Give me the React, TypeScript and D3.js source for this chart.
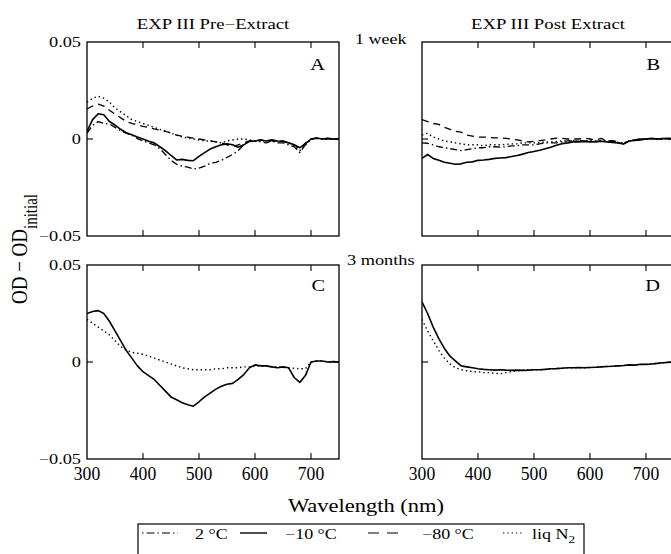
import React from 'react';
import * as d3 from 'd3';

// ---------------- DATA ----------------
const WAVELENGTHS = [
  300, 310, 320, 330, 340, 350, 360, 370, 380, 390,
  400, 410, 420, 430, 440, 450, 460, 470, 480, 490,
  500, 510, 520, 530, 540, 550, 560, 570, 580, 590,
  600, 610, 620, 630, 640, 650, 660, 670, 680, 690,
  700, 710, 720, 730, 740, 750,
];

const X_TICKS = [300, 400, 500, 600, 700];
const Y_TICKS = [-0.05, 0, 0.05];

const COL_TITLES = ['EXP III Pre\u2212Extract', 'EXP III Post Extract'];
const ROW_LABELS = ['1 week', '3 months'];
const PANEL_LETTERS = ['A', 'B', 'C', 'D'];
const LEGEND_LABELS = ['2 \u00B0C', '\u221210 \u00B0C', '\u221280 \u00B0C', 'liq N'];

// Panel A: 1 week, pre-extract
const A_2C = [
  0.003, 0.007, 0.009, 0.008, 0.0078, 0.006, 0.0042, 0.003, 0.002, 0.0002,
  -0.001, -0.002, -0.003, -0.005, -0.008, -0.011, -0.013, -0.014, -0.0145, -0.0155,
  -0.015, -0.014, -0.0125, -0.012, -0.011, -0.0095, -0.008, -0.006, -0.003, -0.0012,
  -0.001, -0.0015, -0.002, -0.001, -0.002, -0.002, -0.003, -0.004, -0.007, -0.003,
  0.0, 0.0004, 0.0, 0.0003, -0.0002, 0.0,
];
const A_M10C = [
  0.004, 0.010, 0.013, 0.0125, 0.009, 0.0072, 0.005, 0.0032, 0.0022, 0.001,
  0.0, -0.0012, -0.002, -0.004, -0.006, -0.0085, -0.0108, -0.0105, -0.011, -0.0112,
  -0.009, -0.007, -0.0052, -0.004, -0.003, -0.0025, -0.003, -0.0042, -0.003, -0.0012,
  -0.001, -0.0005, -0.001, -0.0004, -0.001, -0.0012, -0.002, -0.003, -0.0045, -0.0025,
  0.0, 0.0005, 0.0, 0.0003, 0.0, 0.0,
];
const A_M80C = [
  0.0155, 0.017, 0.018, 0.017, 0.0148, 0.0128, 0.011, 0.009, 0.008, 0.0072,
  0.0065, 0.006, 0.0052, 0.0045, 0.004, 0.003, 0.002, 0.0015, 0.001, 0.0005,
  0.0, -0.0005, -0.001, -0.0015, -0.002, -0.003, -0.0038, -0.003, -0.002, -0.001,
  -0.001, -0.0005, -0.001, -0.001, -0.0015, -0.001, -0.002, -0.003, -0.005, -0.002,
  0.0, 0.0003, 0.0, 0.0002, 0.0, 0.0,
];
const A_LN2 = [
  0.019, 0.021, 0.022, 0.021, 0.019, 0.016, 0.014, 0.012, 0.010, 0.009,
  0.008, 0.007, 0.006, 0.005, 0.004, 0.003, 0.002, 0.001, 0.0005, 0.0,
  -0.0005, -0.001, -0.001, -0.0015, -0.002, -0.001, -0.0005, 0.0, 0.0, -0.0005,
  -0.001, -0.0008, -0.001, -0.0005, -0.001, -0.0012, -0.002, -0.0035, -0.006, -0.003,
  0.0, 0.0003, 0.0, 0.0, 0.0002, 0.0,
];

// Panel B: 1 week, post extract
const B_2C = [
  -0.002, -0.0022, -0.003, -0.004, -0.0045, -0.005, -0.0055, -0.006, -0.0055, -0.005,
  -0.0045, -0.0045, -0.004, -0.004, -0.0042, -0.004, -0.0035, -0.0035, -0.003, -0.003,
  -0.003, -0.0025, -0.002, -0.002, -0.002, -0.0015, -0.001, -0.001, -0.0008, -0.001,
  -0.001, -0.0012, -0.001, -0.0012, -0.0015, -0.002, -0.0025, -0.001, -0.0005, 0.0,
  0.0, 0.0002, 0.0, 0.0003, 0.0, 0.0,
];
const B_M10C = [
  -0.010, -0.008, -0.010, -0.011, -0.012, -0.0125, -0.013, -0.0128, -0.012, -0.0118,
  -0.011, -0.0108, -0.0105, -0.010, -0.0098, -0.0096, -0.009, -0.0085, -0.0078, -0.007,
  -0.0064, -0.0058, -0.005, -0.0042, -0.0032, -0.0024, -0.002, -0.0015, -0.0015, -0.0013,
  -0.0015, -0.0015, -0.0012, -0.0015, -0.0018, -0.002, -0.0025, -0.001, -0.0008, -0.0005,
  0.0, 0.0003, 0.0, 0.0002, 0.0004, 0.0,
];
const B_M80C = [
  0.010, 0.009, 0.008, 0.0075, 0.006, 0.005, 0.004, 0.0035, 0.002, 0.0015,
  0.001, 0.001, 0.0008, 0.0006, 0.0005, 0.0003, 0.0, -0.0005, -0.001, -0.0015,
  -0.0012, -0.0008, -0.0005, 0.0, 0.0005, 0.0003, 0.0, 0.0, 0.0, 0.0005,
  0.0, -0.0005, 0.0003, -0.001, -0.0008, -0.0015, -0.0025, -0.001, -0.0005, 0.0,
  0.0, 0.0002, 0.0, 0.0, 0.0003, 0.0,
];
const B_LN2 = [
  0.002, 0.003, 0.001, 0.0, -0.001, -0.0015, -0.002, -0.0025, -0.003, -0.003,
  -0.003, -0.0035, -0.003, -0.003, -0.003, -0.0028, -0.0025, -0.0025, -0.002, -0.002,
  -0.002, -0.0018, -0.0015, -0.0015, -0.0012, -0.001, -0.001, -0.0008, -0.001, -0.0008,
  -0.001, -0.001, -0.0008, -0.001, -0.0012, -0.0018, -0.0022, -0.001, -0.0005, 0.0,
  0.0, 0.0, 0.0002, 0.0, 0.0, 0.0,
];

// Panel C: 3 months, pre-extract
const C_M10C = [
  0.025, 0.026, 0.0265, 0.025, 0.021, 0.016, 0.011, 0.006, 0.002, -0.002,
  -0.005, -0.007, -0.009, -0.012, -0.015, -0.018, -0.0195, -0.021, -0.022, -0.0228,
  -0.0205, -0.018, -0.016, -0.014, -0.0125, -0.0115, -0.011, -0.009, -0.0065, -0.003,
  -0.0015, -0.002, -0.002, -0.0025, -0.003, -0.0025, -0.003, -0.008, -0.0105, -0.007,
  0.0, 0.0005, 0.0005, 0.0, 0.0002, 0.0,
];
const C_LN2 = [
  0.022, 0.020, 0.018, 0.016, 0.014, 0.011, 0.008, 0.006, 0.005, 0.0045,
  0.004, 0.003, 0.002, 0.001, 0.0, -0.001, -0.002, -0.003, -0.0035, -0.004,
  -0.004, -0.004, -0.004, -0.0035, -0.0035, -0.003, -0.003, -0.003, -0.0025, -0.0025,
  -0.002, -0.002, -0.0022, -0.0025, -0.0025, -0.0028, -0.003, -0.0032, -0.0035, -0.0035,
  0.0, 0.0005, 0.0005, 0.0, 0.0002, 0.0,
];

// Panel D: 3 months, post extract
const D_M10C = [
  0.031, 0.025, 0.018, 0.012, 0.007, 0.003, 0.0005, -0.002, -0.0025, -0.003,
  -0.0035, -0.0038, -0.004, -0.0042, -0.004, -0.0042, -0.0043, -0.0042, -0.0043, -0.0042,
  -0.004, -0.004, -0.0038, -0.0035, -0.0034, -0.0032, -0.003, -0.003, -0.0029, -0.003,
  -0.0028, -0.0027, -0.0025, -0.0023, -0.0022, -0.002, -0.0018, -0.0015, -0.0016, -0.0012,
  -0.0012, -0.001, -0.0007, -0.0004, -0.0002, 0.0,
];
const D_LN2 = [
  0.022, 0.016, 0.011, 0.006, 0.002, -0.001, -0.003, -0.004, -0.0045, -0.005,
  -0.005, -0.0055, -0.0055, -0.0058, -0.006, -0.0055, -0.005, -0.0045, -0.0042, -0.004,
  -0.004, -0.004, -0.0038, -0.0035, -0.0034, -0.0032, -0.003, -0.003, -0.0029, -0.003,
  -0.0028, -0.0027, -0.0025, -0.0023, -0.0022, -0.002, -0.0018, -0.0015, -0.0016, -0.0012,
  -0.0012, -0.001, -0.0007, -0.0004, -0.0002, 0.0,
];

// ---------------- STYLE ----------------
const FONT = "'Liberation Serif', 'Times New Roman', Times, serif";
const STYLES: Record<string, { dash?: string; width: number }> = {
  dashdot: { dash: '7,3,1.5,3', width: 1.3 },
  solid: { width: 1.6 },
  dashed: { dash: '7,5', width: 1.3 },
  dotted: { dash: '1.4,3', width: 1.4 },
};
const LEGEND_DASH: Record<string, string | undefined> = {
  dashdot: '1.5,3,8,3',
  solid: undefined,
  dashed: '11,8',
  dotted: '1.3,3',
};

type Series = { values: number[]; style: string };
const PANELS: { letter: string; col: number; row: number; series: Series[] }[] = [
  {
    letter: PANEL_LETTERS[0], col: 0, row: 0,
    series: [
      { values: A_LN2, style: 'dotted' },
      { values: A_M80C, style: 'dashed' },
      { values: A_2C, style: 'dashdot' },
      { values: A_M10C, style: 'solid' },
    ],
  },
  {
    letter: PANEL_LETTERS[1], col: 1, row: 0,
    series: [
      { values: B_LN2, style: 'dotted' },
      { values: B_M80C, style: 'dashed' },
      { values: B_2C, style: 'dashdot' },
      { values: B_M10C, style: 'solid' },
    ],
  },
  {
    letter: PANEL_LETTERS[2], col: 0, row: 1,
    series: [
      { values: C_LN2, style: 'dotted' },
      { values: C_M10C, style: 'solid' },
    ],
  },
  {
    letter: PANEL_LETTERS[3], col: 1, row: 1,
    series: [
      { values: D_LN2, style: 'dotted' },
      { values: D_M10C, style: 'solid' },
    ],
  },
];

const COL_X = [87, 422];
const ROW_Y = [42, 265];
const PW = 252;
const PH = 194;

function T(props: {
  x: number; y: number; fs: number; sx?: number; sy?: number;
  anchor?: string; children: React.ReactNode;
}) {
  const { x, y, fs, sx = 1.22, sy = 1, anchor = 'start', children } = props;
  return (
    <text
      transform={`translate(${x},${y}) scale(${sx},${sy})`}
      fontSize={fs}
      fontFamily={FONT}
      textAnchor={anchor as any}
      fill="#000"
    >
      {children}
    </text>
  );
}

const fmtY = (v: number) => (v === 0 ? '0' : v < 0 ? '\u2212' + String(Math.abs(v)) : String(v));

function Panel({ p }: { p: (typeof PANELS)[number] }) {
  const x0 = COL_X[p.col];
  const y0 = ROW_Y[p.row];
  const xs = d3.scaleLinear().domain([300, 750]).range([x0, x0 + PW]);
  const ys = d3.scaleLinear().domain([-0.05, 0.05]).range([y0 + PH, y0]);
  const clipId = `clip-${p.letter}`;
  return (
    <g>
      <defs>
        <clipPath id={clipId}>
          <rect x={x0} y={y0} width={PW} height={PH} />
        </clipPath>
      </defs>
      <g clipPath={`url(#${clipId})`}>
        {p.series.map((s, i) => {
          const line = d3
            .line<number>()
            .x((_, j) => xs(WAVELENGTHS[j]))
            .y((d) => ys(d))
            .curve(d3.curveLinear);
          const st = STYLES[s.style];
          return (
            <path
              key={i}
              d={line(s.values) || ''}
              fill="none"
              stroke="#000"
              strokeWidth={st.width}
              strokeDasharray={st.dash}
              strokeLinejoin="round"
            />
          );
        })}
      </g>
      <rect x={x0} y={y0} width={PW} height={PH} fill="none" stroke="#000" strokeWidth={1.3} />
      {X_TICKS.filter((t) => t > 300).map((t) => (
        <g key={t}>
          <line x1={xs(t)} x2={xs(t)} y1={y0} y2={y0 + 6} stroke="#000" strokeWidth={1.1} />
          <line x1={xs(t)} x2={xs(t)} y1={y0 + PH} y2={y0 + PH - 6} stroke="#000" strokeWidth={1.1} />
        </g>
      ))}
      {Y_TICKS.filter((t) => t === 0).map((t) => (
        <g key={t}>
          <line x1={x0} x2={x0 + 6} y1={ys(t)} y2={ys(t)} stroke="#000" strokeWidth={1.1} />
          <line x1={x0 + PW} x2={x0 + PW - 6} y1={ys(t)} y2={ys(t)} stroke="#000" strokeWidth={1.1} />
        </g>
      ))}
      {p.col === 0 &&
        Y_TICKS.map((t) => (
          <T key={t} x={x0 - 6} y={ys(t) + 5} fs={15} anchor="end">
            {fmtY(t)}
          </T>
        ))}
      {p.row === 1 &&
        X_TICKS.map((t) => (
          <T key={t} x={xs(t)} y={y0 + PH + 21} fs={16} sx={1.1} sy={1.12} anchor="middle">
            {String(t)}
          </T>
        ))}
      <T x={x0 + PW - 14} y={y0 + (p.row === 0 ? 28 : 26)} fs={17} sx={1.2} anchor="end">
        {p.letter}
      </T>
    </g>
  );
}

export default function App() {
  const legendStyles = ['dashdot', 'solid', 'dashed', 'dotted'];
  const legendSample = [
    [142, 178],
    [240, 267],
    [368, 398],
    [503, 522],
  ];
  const legendTextX = [195, 285, 422, 532];
  return (
    <svg
      width={671}
      height={554}
      style={{ position: 'absolute', left: 0, top: 0, background: '#fff' }}
    >
      <rect x={0} y={0} width={671} height={554} fill="#fff" />
      {COL_TITLES.map((t, i) => (
        <T key={t} x={COL_X[i] + PW / 2} y={29} fs={15} sx={1.25} anchor="middle">
          {t}
        </T>
      ))}
      <T x={355} y={44} fs={15} sx={1.2}>{ROW_LABELS[0]}</T>
      <T x={347} y={265} fs={15} sx={1.22}>{ROW_LABELS[1]}</T>
      {PANELS.map((p) => (
        <Panel key={p.letter} p={p} />
      ))}
      <text
        transform="translate(27,249) rotate(-90) scale(1,1.2)"
        fontSize={19}
        fontFamily={FONT}
        textAnchor="middle"
        fill="#000"
      >
        OD {'\u2212'} OD
        <tspan fontSize={15} dy={8}>initial</tspan>
      </text>
      <T x={366} y={512} fs={18} sx={1.25} anchor="middle">Wavelength (nm)</T>
      <rect x={138} y={524} width={446} height={40} fill="none" stroke="#000" strokeWidth={1.2} />
      {legendStyles.map((s, i) => (
        <g key={s}>
          <line
            x1={legendSample[i][0]}
            x2={legendSample[i][1]}
            y1={533}
            y2={533}
            stroke="#000"
            strokeWidth={s === 'solid' ? 1.4 : 1.1}
            strokeDasharray={LEGEND_DASH[s]}
          />
          <T x={legendTextX[i]} y={539} fs={15} sx={1.2}>
            {LEGEND_LABELS[i]}
            {i === 3 && (
              <tspan fontSize={11} dy={4}>2</tspan>
            )}
          </T>
        </g>
      ))}
    </svg>
  );
}
